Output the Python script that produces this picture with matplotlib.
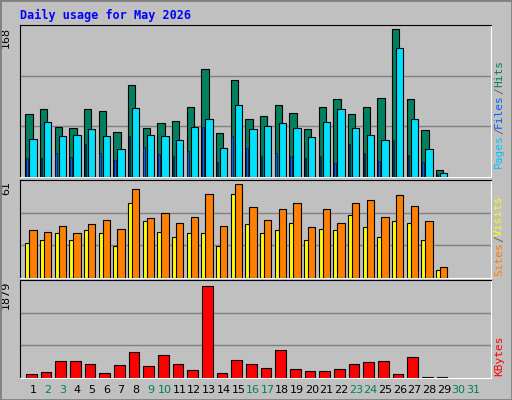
import matplotlib
matplotlib.use("Agg")
import matplotlib.pyplot as plt
import numpy as np
from matplotlib.patches import Rectangle

days = list(range(1, 30))
day_labels = [str(d) for d in range(1, 32)]
weekend = {2, 3, 9, 10, 16, 17, 23, 24, 30, 31}
hits = [72,77,57,56,77,75,51,104,56,61,64,80,122,50,110,66,69,82,73,54,79,89,71,80,90,168,89,53,8]
files = [43,62,47,48,54,47,32,78,48,47,42,57,66,33,82,55,58,61,56,45,62,77,56,48,42,146,66,32,5]
pages = [21,21,27,23,38,27,19,47,34,26,24,29,57,17,46,33,24,27,24,22,24,16,37,27,18,42,25,17,3]
visits = [23,25,29,25,31,29,21,49,37,30,27,29,29,21,55,35,29,31,36,25,32,31,41,33,27,37,36,25,5]
sites = [31,30,34,29,35,38,32,58,39,42,36,40,55,34,61,46,38,45,49,33,45,36,49,51,40,54,47,37,7]
kbytes = [89,130,357,357,295,110,274,542,254,480,295,172,1879,110,377,295,213,583,192,151,151,192,295,336,357,89,439,27,27]

W, H = 512, 400
fig = plt.figure(figsize=(W/100, H/100), dpi=100, facecolor="#C0C0C0")
fig.patches.append(Rectangle((0, 0), 1, 1, transform=fig.transFigure, fill=False, edgecolor="#808080", lw=2))

def ax_px(x0, y0, x1, y1):
    return fig.add_axes([x0/W, 1-y1/H, (x1-x0)/W, (y1-y0)/H])

d = np.array(days)
xl = (0.114, 32.22)
mono = "DejaVu Sans Mono"

def style(ax, label):
    ax.set_facecolor("#C0C0C0")
    ax.set_xlim(*xl)
    ax.set_xticks([]); ax.set_yticks([])
    for y in (1/3, 2/3):
        ax.axhline(y*ax.get_ylim()[1], color="#808080", lw=1, zorder=0)
    for s in ("top", "left"):
        ax.spines[s].set_color("black")
    for s in ("bottom", "right"):
        ax.spines[s].set_color("white")
    ax.text(-0.03, 1-0.01, label, transform=ax.transAxes, rotation=90, ha="center", va="top", fontsize=8)

ax1 = ax_px(20, 25, 491, 177)
ax1.set_ylim(0, 172.5)
ax1.bar(d-0.52, hits, width=0.5, align="edge", color="#008060", edgecolor="black", lw=0.8, zorder=2)
ax1.bar(d-0.25, files, width=0.5, align="edge", color="#00E0FF", edgecolor="black", lw=0.8, zorder=3)
ax1.bar(d-0.47, pages, width=0.1, align="edge", color="#0060FF", edgecolor="black", lw=0.4, zorder=4)
style(ax1, "168")

ax2 = ax_px(20, 180, 491, 278)
ax2.set_ylim(0, 63.8)
ax2.bar(d-0.52, visits, width=0.5, align="edge", color="#FFFF00", edgecolor="black", lw=0.8, zorder=2)
ax2.bar(d-0.25, sites, width=0.5, align="edge", color="#FF8000", edgecolor="black", lw=0.8, zorder=3)
style(ax2, "61")

ax3 = ax_px(20, 280, 491, 378)
ax3.set_ylim(0, 2005)
ax3.bar(d-0.48, kbytes, width=0.72, align="edge", color="#FF0000", edgecolor="black", lw=0.8, zorder=2)
style(ax3, "1879")

for i, lab in enumerate(day_labels):
    fig.text((33 + i*14.67)/W, 1-390/H, lab, ha="center", va="center", fontsize=8,
             color="#00805C" if (i+1) in weekend else "black")

fig.text(20/W, 1-15/H, "Daily usage for May 2026", family=mono, weight="bold", color="#0000FF",
         fontsize=8.5, ha="left", va="center")

renderer = fig.canvas.get_renderer()
def vlabel(y_bottom, parts):
    y = y_bottom
    for txt, col in parts:
        t = fig.text(499/W, 1-y/H, txt, rotation=90, family=mono, fontsize=8, color=col,
                     ha="center", va="bottom", rotation_mode="default")
        bb = t.get_window_extent(renderer)
        n = len(txt)
        # monospace advance: measure height per char
        y -= bb.height * (n / max(n, 1))

vlabel(168, [("Pages", "#00C0FF"), ("/", "#606060"), ("Files", "#0060FF"), ("/", "#606060"), ("Hits", "#008060")])
vlabel(276, [("Sites", "#FF8000"), ("/", "#606060"), ("Visits", "#FFFF00")])
vlabel(376, [("KBytes", "#FF0000")])

fig.savefig("out.png", dpi=100, facecolor=fig.get_facecolor())
